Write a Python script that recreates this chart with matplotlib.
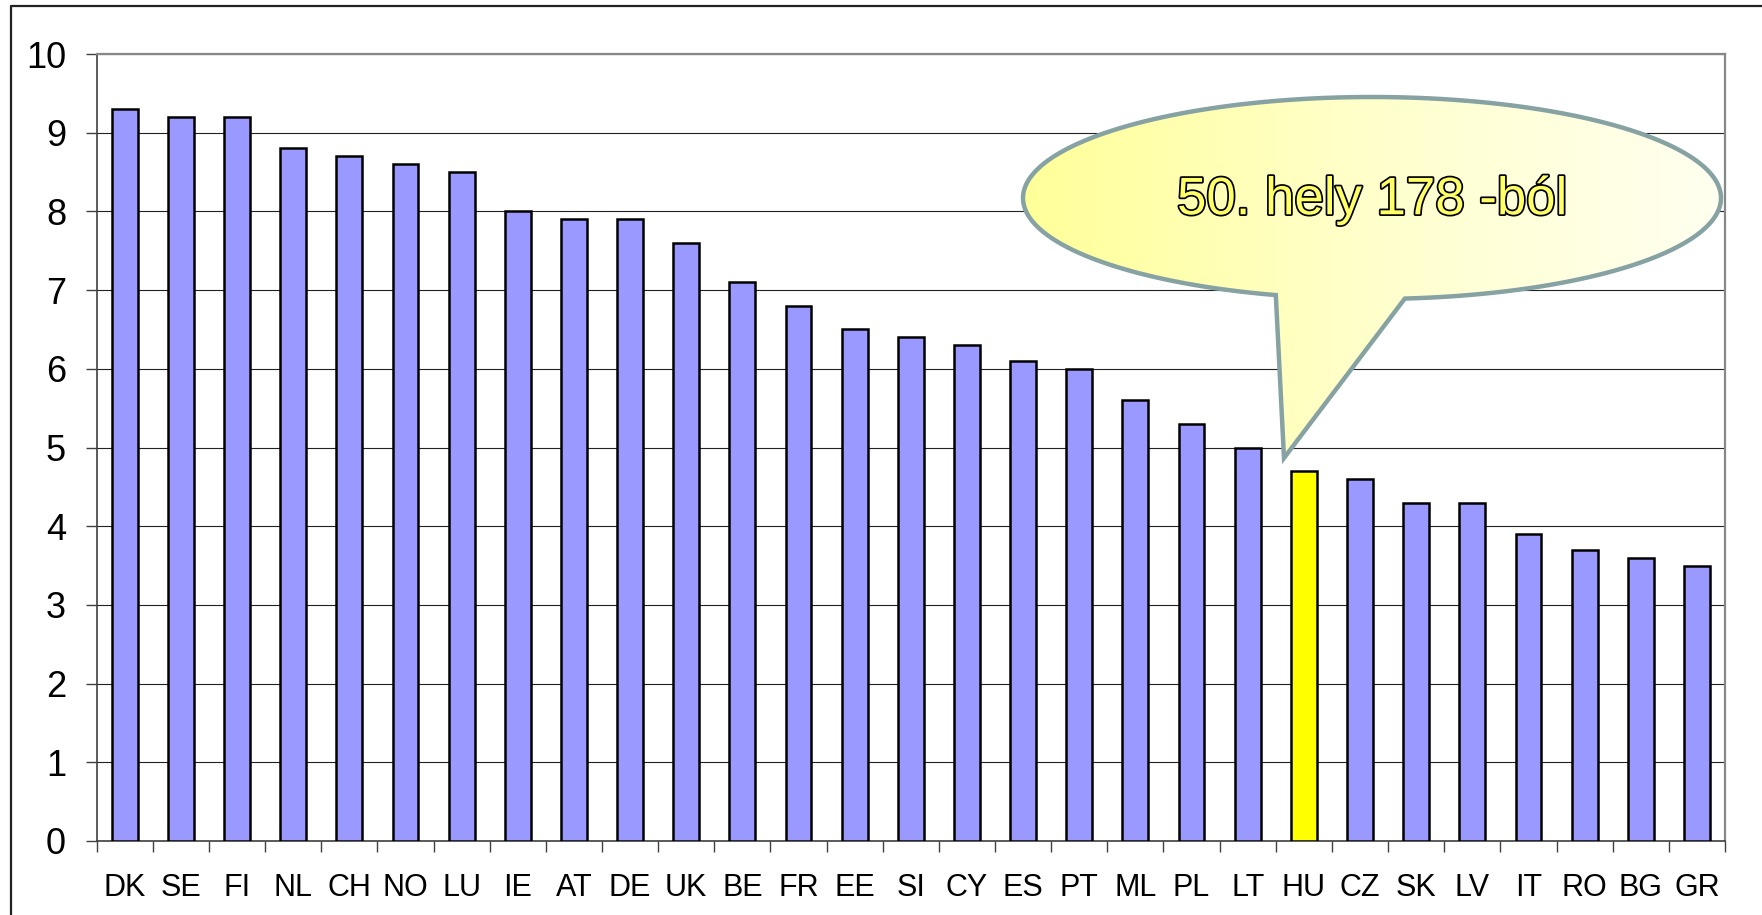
import matplotlib.pyplot as plt
import matplotlib.patheffects as pe
from matplotlib.patches import Polygon
from matplotlib.colors import LinearSegmentedColormap
from matplotlib.ticker import FixedLocator, NullFormatter
import numpy as np

countries = ["DK", "SE", "FI", "NL", "CH", "NO", "LU", "IE", "AT", "DE",
             "UK", "BE", "FR", "EE", "SI", "CY", "ES", "PT", "ML", "PL",
             "LT", "HU", "CZ", "SK", "LV", "IT", "RO", "BG", "GR"]
scores = [9.3, 9.2, 9.2, 8.8, 8.7, 8.6, 8.5, 8.0, 7.9, 7.9,
          7.6, 7.1, 6.8, 6.5, 6.4, 6.3, 6.1, 6.0, 5.6, 5.3,
          5.0, 4.7, 4.6, 4.3, 4.3, 3.9, 3.7, 3.6, 3.5]
highlight = "HU"
callout_text = "50. hely 178 -ból"
y_ticks = list(range(0, 11))

plt.rcParams["font.family"] = ["Liberation Sans", "DejaVu Sans"]

W, H = 1762, 915
fig = plt.figure(figsize=(W / 100, H / 100), dpi=100)
ax = fig.add_axes([96.6 / W, 1 - 841 / H, (1725 - 96.6) / W, (841 - 54) / H])

x = np.arange(len(countries))
colors = ["#FFFF00" if c == highlight else "#9999FF" for c in countries]
ax.bar(x, scores, width=0.46, color=colors, edgecolor="black", linewidth=1.8, zorder=3)

ax.set_xlim(-0.5, len(countries) - 0.5)
ax.set_ylim(0, 10)
ax.set_yticks(y_ticks)
ax.set_xticks(x)
ax.set_xticklabels(countries, fontsize=22)
# ticks sit between the categories, like in the original
ax.xaxis.set_minor_locator(FixedLocator(np.arange(-0.5, len(countries), 1.0)))
ax.xaxis.set_minor_formatter(NullFormatter())
ax.tick_params(axis="x", which="major", length=0, pad=23)
ax.tick_params(axis="x", which="minor", length=8, width=1, color="#404040", direction="out")
ax.tick_params(axis="y", length=8, width=1, color="#404040", direction="out", labelsize=26, pad=14)

ax.set_axisbelow(True)
ax.yaxis.grid(True, color="#222222", linewidth=0.8)
for side in ["left", "bottom"]:
    ax.spines[side].set_color("#404040")
    ax.spines[side].set_linewidth(1.2)
for side in ["top", "right"]:
    ax.spines[side].set_color("#888888")
    ax.spines[side].set_linewidth(1.6)

# overlay in pixel coords for frame + callout
ov = fig.add_axes([0, 0, 1, 1], zorder=5)
ov.set_xlim(0, W)
ov.set_ylim(H, 0)
ov.axis("off")
ov.patch.set_alpha(0)

ov.plot([11, 11, W], [H, 6, 6], color="#222222", linewidth=1.6)

cx, cy, a, b = 1372, 198, 349, 101
t = np.radians(np.linspace(106, 444.6, 300))
pts = np.column_stack([cx + a * np.cos(t), cy + b * np.sin(t)])
pts = np.vstack([pts, [[1284, 458]]])
bubble = Polygon(pts, closed=True, facecolor="none", edgecolor="#86A2A2", linewidth=3.2, zorder=7)
ov.add_patch(bubble)

grad = np.linspace(0, 1, 256).reshape(1, -1)
cmap = LinearSegmentedColormap.from_list("bub", ["#FFFF99", "#FFFFCC", "#FFFFF0"])
img = ov.imshow(grad, cmap=cmap, extent=[cx - a, cx + a, 460, cy - b], aspect="auto", zorder=6)
img.set_clip_path(Polygon(pts, closed=True, transform=ov.transData))
ov.set_xlim(0, W)
ov.set_ylim(H, 0)

ov.text(cx, 200, callout_text, fontsize=38, color="#FFFF66", ha="center", va="center", zorder=8,
        path_effects=[pe.Stroke(linewidth=2.5, foreground="black"), pe.Normal()])

fig.savefig("out.png", dpi=100)
